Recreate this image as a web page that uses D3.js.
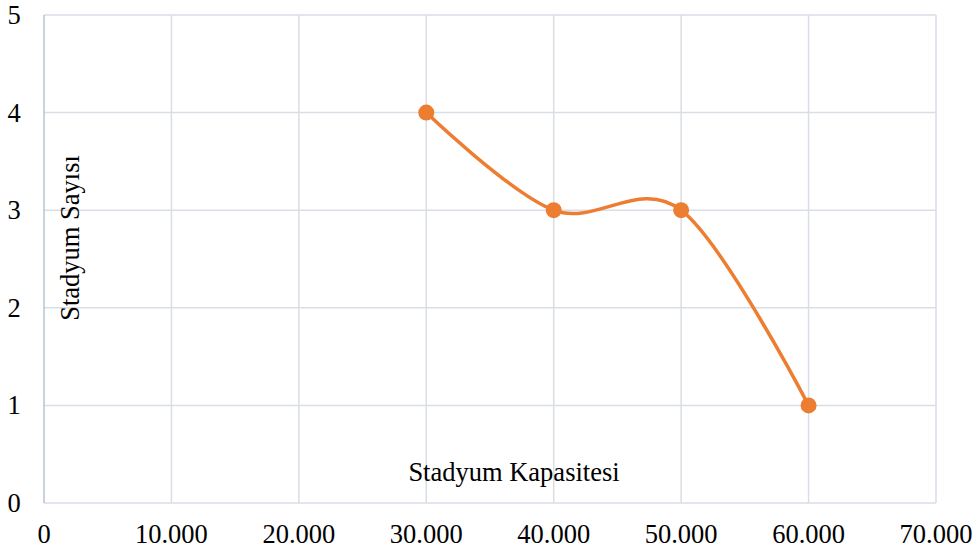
<!DOCTYPE html>
<html><head><meta charset="utf-8">
<script src="https://cdn.jsdelivr.net/npm/d3@7"></script>
<style>body{margin:0;background:#fff}svg{display:block}text{font-family:"Liberation Serif","Times New Roman",serif;fill:#000}</style>
</head><body><svg id="c" width="978" height="551"></svg>
<script>
const capacities = [30000, 40000, 50000, 60000];
const stadiumCounts = [4, 3, 3, 1];
const xTicks = [0, 10000, 20000, 30000, 40000, 50000, 60000, 70000];
const yTicks = [0, 1, 2, 3, 4, 5];
const xTitle = "Stadyum Kapasitesi";
const yTitle = "Stadyum Sayısı";

const svg = d3.select("#c");
const x = d3.scaleLinear().domain([0, 70000]).range([44, 936]);
const y = d3.scaleLinear().domain([0, 5]).range([503, 15]);
const fmt = v => v === 0 ? "0" : d3.format(",")(v).replace(/,/g, ".");
const FS = 26.5;

// grid
svg.append("g").selectAll("line").data(yTicks).join("line")
  .attr("x1", x(0)).attr("x2", x(70000)).attr("y1", d => y(d)).attr("y2", d => y(d))
  .attr("stroke", "#d9dde5").attr("stroke-width", 1.5);
svg.append("g").selectAll("line").data(xTicks.filter(d => d > 0)).join("line")
  .attr("x1", d => x(d)).attr("x2", d => x(d)).attr("y1", y(0)).attr("y2", y(5))
  .attr("stroke", "#d9dde5").attr("stroke-width", 1.5);
// left axis line
svg.append("line").attr("x1", x(0)).attr("x2", x(0)).attr("y1", y(0)).attr("y2", y(5))
  .attr("stroke", "#b8c3d6").attr("stroke-width", 1.5);

// tick labels
svg.append("g").selectAll("text").data(yTicks).join("text")
  .attr("x", 14).attr("y", d => y(d) + 9).attr("text-anchor", "middle")
  .attr("font-size", FS).text(d => d);
svg.append("g").selectAll("text").data(xTicks).join("text")
  .attr("x", d => x(d)).attr("y", 543).attr("text-anchor", "middle")
  .attr("font-size", FS).text(fmt);

// titles
svg.append("text").attr("x", 514).attr("y", 481).attr("text-anchor", "middle")
  .attr("font-size", FS).text(xTitle);
svg.append("text").attr("transform", "translate(79,238) rotate(-90)")
  .attr("text-anchor", "middle").attr("font-size", FS).text(yTitle);

// series
const data = capacities.map((c, i) => ({c, v: stadiumCounts[i]}));
const line = d3.line().x(d => x(d.c)).y(d => y(d.v)).curve(d3.curveCardinal.tension(0));
svg.append("path").datum(data).attr("d", line).attr("fill", "none")
  .attr("stroke", "#ED7D31").attr("stroke-width", 3.5).attr("stroke-linecap", "round");
svg.append("g").selectAll("circle").data(data).join("circle")
  .attr("cx", d => x(d.c)).attr("cy", d => y(d.v)).attr("r", 8).attr("fill", "#ED7D31");
</script></body></html>
